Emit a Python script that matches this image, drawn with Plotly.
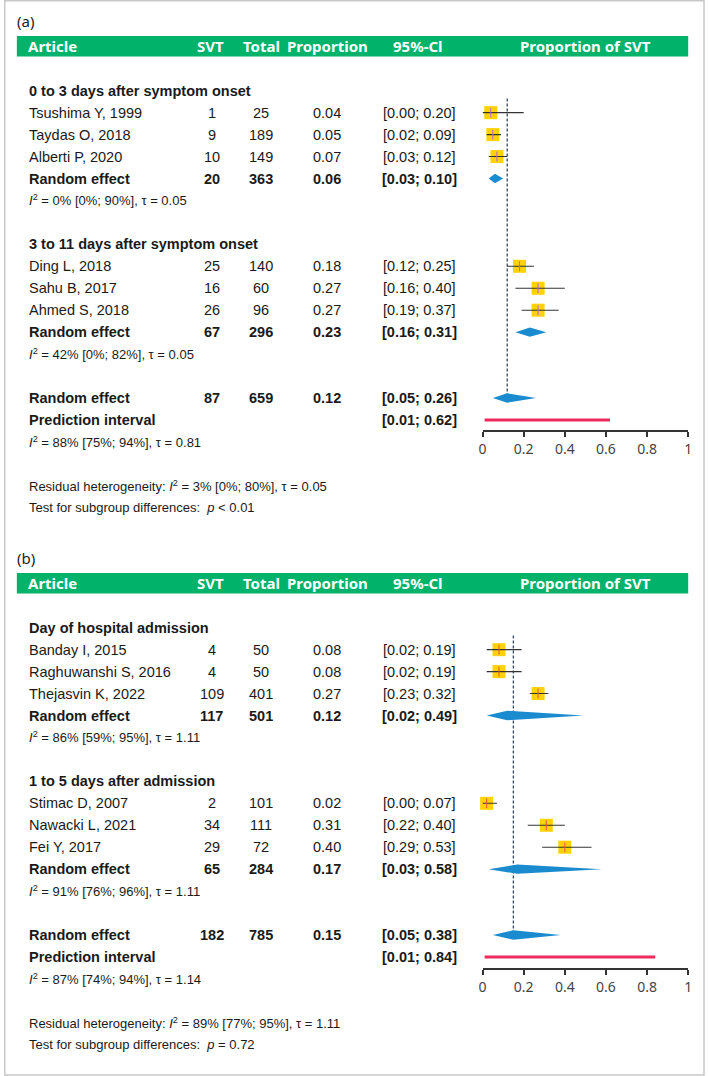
import plotly.graph_objects as go

W, H = 709, 1076

# ---------------- Data: panel (a) ----------------
label_a = "(a)"
subgroups_a = ["0 to 3 days after symptom onset", "3 to 11 days after symptom onset"]
studies_a = ["Tsushima Y, 1999", "Taydas O, 2018", "Alberti P, 2020",
             "Ding L, 2018", "Sahu B, 2017", "Ahmed S, 2018"]
svt_a = [1, 9, 10, 25, 16, 26]
total_a = [25, 189, 149, 140, 60, 96]
prop_a = [0.04, 0.05, 0.07, 0.18, 0.27, 0.27]
lo_a = [0.00, 0.02, 0.03, 0.12, 0.16, 0.19]
hi_a = [0.20, 0.09, 0.12, 0.25, 0.40, 0.37]
re_svt_a = [20, 67]
re_total_a = [363, 296]
re_prop_a = [0.06, 0.23]
re_lo_a = [0.03, 0.16]
re_hi_a = [0.10, 0.31]
het_a = ["0% [0%; 90%]", "42% [0%; 82%]"]
tau_a = ["0.05", "0.05"]
overall_a = dict(svt=87, total=659, prop=0.12, lo=0.05, hi=0.26,
                 pi_lo=0.01, pi_hi=0.62, het="88% [75%; 94%]", tau="0.81",
                 res_het="3% [0%; 80%]", res_tau="0.05", test="<i>p</i> < 0.01")

# ---------------- Data: panel (b) ----------------
label_b = "(b)"
subgroups_b = ["Day of hospital admission", "1 to 5 days after admission"]
studies_b = ["Banday I, 2015", "Raghuwanshi S, 2016", "Thejasvin K, 2022",
             "Stimac D, 2007", "Nawacki L, 2021", "Fei Y, 2017"]
svt_b = [4, 4, 109, 2, 34, 29]
total_b = [50, 50, 401, 101, 111, 72]
prop_b = [0.08, 0.08, 0.27, 0.02, 0.31, 0.40]
lo_b = [0.02, 0.02, 0.23, 0.00, 0.22, 0.29]
hi_b = [0.19, 0.19, 0.32, 0.07, 0.40, 0.53]
re_svt_b = [117, 65]
re_total_b = [501, 284]
re_prop_b = [0.12, 0.17]
re_lo_b = [0.02, 0.03]
re_hi_b = [0.49, 0.58]
het_b = ["86% [59%; 95%]", "91% [76%; 96%]"]
tau_b = ["1.11", "1.11"]
overall_b = dict(svt=182, total=785, prop=0.15, lo=0.05, hi=0.38,
                 pi_lo=0.01, pi_hi=0.84, het="87% [74%; 94%]", tau="1.14",
                 res_het="89% [77%; 95%]", res_tau="1.11", test="<i>p</i> = 0.72")

header_labels = ["Article", "SVT", "Total", "Proportion", "95%-Cl", "Proportion of SVT"]
tick_vals = [0, 0.2, 0.4, 0.6, 0.8, 1]
tick_text = ["0", "0.2", "0.4", "0.6", "0.8", "1"]

# ---------------- Styling / layout constants ----------------
GREEN = "#00B26A"
YELLOW = "#FFD200"
BLUE = "#1B8BCF"
RED = "#EC2B5C"
DASH = "#34465E"
TXT = "#1a1a1a"
BODY = "Liberation Sans, Arial, sans-serif"
HEAD = "Noto Sans, Open Sans, sans-serif"

STEP = 21.95
X_NAME, X_SVT, X_TOT, X_PROP, X_CI = 25, 210, 259.5, 341, 420
FX0, FX1 = 484, 692
DIAMOND_H = 4.7

panels = [
    dict(label=label_a, subgroups=subgroups_a, studies=studies_a, svt=svt_a, total=total_a,
         prop=prop_a, lo=lo_a, hi=hi_a, re_svt=re_svt_a, re_total=re_total_a,
         re_prop=re_prop_a, re_lo=re_lo_a, re_hi=re_hi_a, het=het_a, tau=tau_a,
         overall=overall_a, base=90.7, axis_y=430, top=60, xa="x2", ya="y2"),
    dict(label=label_b, subgroups=subgroups_b, studies=studies_b, svt=svt_b, total=total_b,
         prop=prop_b, lo=lo_b, hi=hi_b, re_svt=re_svt_b, re_total=re_total_b,
         re_prop=re_prop_b, re_lo=re_lo_b, re_hi=re_hi_b, het=het_b, tau=tau_b,
         overall=overall_b, base=627.7, axis_y=967.7, top=600, xa="x3", ya="y3"),
]

fig = go.Figure()
annotations = []
shapes = []


def px(x):
    return x / W


def py(y):
    return 1 - y / H


def txt(x, y, s, anchor="left", size=14.5, color=TXT, family=BODY):
    annotations.append(dict(
        x=px(x), y=py(y), xref="paper", yref="paper", text=s, showarrow=False,
        xanchor=anchor, yanchor="middle", font=dict(size=size, color=color, family=family),
        borderpad=0, borderwidth=0))


def fmt(v):
    return f"{v:.2f}"


def ci(lo, hi):
    return f"[{lo:.2f}; {hi:.2f}]"


# outer frame
shapes.append(dict(type="rect", xref="paper", yref="paper", x0=px(0.75), x1=px(708),
                   y0=py(1075), y1=py(0.75), line=dict(color="#C8C8C8", width=1.5)))

for p in panels:
    base = p["base"]
    row = lambda r: base + STEP * r
    hy = base - 44.5
    txt(13, base - 70, p["label"], size=15, family=HEAD, color="#222")
    shapes.append(dict(type="rect", xref="paper", yref="paper", x0=px(13), x1=px(692),
                       y0=py(hy + 10.3), y1=py(hy - 10.3), fillcolor=GREEN,
                       line=dict(width=0), layer="below"))
    hx = [(24.3, "left"), (209, "center"), (260, "center"), (327, "center"),
          (419, "center"), (588, "center")]
    for (x, anc), lab in zip(hx, header_labels):
        txt(x, hy, f"<b>{lab}</b>", anchor=anc, size=15, color="white", family=HEAD)

    study_rows = []
    re_rows = []
    for g in range(2):
        off = 7 * g
        txt(X_NAME, row(off), f"<b>{p['subgroups'][g]}</b>")
        for k in range(3):
            i = 3 * g + k
            r = off + 1 + k
            study_rows.append(row(r))
            txt(X_NAME, row(r), p["studies"][i])
            txt(X_SVT, row(r), str(p["svt"][i]), anchor="center")
            txt(X_TOT, row(r), str(p["total"][i]), anchor="center")
            txt(X_PROP, row(r), fmt(p["prop"][i]), anchor="right")
            txt(X_CI, row(r), ci(p["lo"][i], p["hi"][i]), anchor="center")
        r = off + 4
        re_rows.append(row(r))
        txt(X_NAME, row(r), "<b>Random effect</b>")
        txt(X_SVT, row(r), f"<b>{p['re_svt'][g]}</b>", anchor="center")
        txt(X_TOT, row(r), f"<b>{p['re_total'][g]}</b>", anchor="center")
        txt(X_PROP, row(r), f"<b>{fmt(p['re_prop'][g])}</b>", anchor="right")
        txt(X_CI, row(r), f"<b>{ci(p['re_lo'][g], p['re_hi'][g])}</b>", anchor="center")
        txt(X_NAME, row(off + 5),
            f"<i>I</i><sup>2</sup> = {p['het'][g]}, τ = {p['tau'][g]}", size=13)

    o = p["overall"]
    txt(X_NAME, row(14), "<b>Random effect</b>")
    txt(X_SVT, row(14), f"<b>{o['svt']}</b>", anchor="center")
    txt(X_TOT, row(14), f"<b>{o['total']}</b>", anchor="center")
    txt(X_PROP, row(14), f"<b>{fmt(o['prop'])}</b>", anchor="right")
    txt(X_CI, row(14), f"<b>{ci(o['lo'], o['hi'])}</b>", anchor="center")
    txt(X_NAME, row(15), "<b>Prediction interval</b>")
    txt(X_CI, row(15), f"<b>{ci(o['pi_lo'], o['pi_hi'])}</b>", anchor="center")
    txt(X_NAME, row(16), f"<i>I</i><sup>2</sup> = {o['het']}, τ = {o['tau']}", size=13)
    txt(X_NAME, row(18),
        f"Residual heterogeneity: <i>I</i><sup>2</sup> = {o['res_het']}, τ = {o['res_tau']}",
        size=13)
    txt(X_NAME, row(19.0), "Test for subgroup differences:\u00a0\u00a0" + o["test"], size=13)

    xa, ya = p["xa"], p["ya"]
    fig.add_trace(go.Scatter(x=[o["prop"], o["prop"]], y=[row(0.35), row(14)], xaxis=xa, yaxis=ya,
                             mode="lines", line=dict(color=DASH, width=1.3, dash="3px,2px"),
                             hoverinfo="skip", showlegend=False))
    fig.add_trace(go.Scatter(x=p["prop"], y=study_rows, xaxis=xa, yaxis=ya, mode="markers",
                             marker=dict(symbol="square", size=13, color=YELLOW,
                                         line=dict(width=0)),
                             cliponaxis=False, showlegend=False))
    cx, cy = [], []
    for lo, hi, yy in zip(p["lo"], p["hi"], study_rows):
        cx += [lo, hi, None]
        cy += [yy, yy, None]
    fig.add_trace(go.Scatter(x=cx, y=cy, xaxis=xa, yaxis=ya, mode="lines",
                             line=dict(color="#333333", width=1.1),
                             hoverinfo="skip", showlegend=False))
    fig.add_trace(go.Scatter(x=p["prop"], y=study_rows, xaxis=xa, yaxis=ya, mode="markers",
                             marker=dict(symbol="line-ns-open", size=7,
                                         line=dict(color="#111111", width=1)),
                             cliponaxis=False, showlegend=False))
    d_est = p["re_prop"] + [o["prop"]]
    d_lo = p["re_lo"] + [o["lo"]]
    d_hi = p["re_hi"] + [o["hi"]]
    d_y = re_rows + [row(14)]
    for est, lo, hi, yy in zip(d_est, d_lo, d_hi, d_y):
        fig.add_trace(go.Scatter(x=[lo, est, hi, est, lo],
                                 y=[yy, yy - DIAMOND_H, yy, yy + DIAMOND_H, yy],
                                 xaxis=xa, yaxis=ya, mode="lines", fill="toself",
                                 fillcolor=BLUE, line=dict(width=0, color=BLUE),
                                 hoverinfo="skip", showlegend=False))
    fig.add_trace(go.Scatter(x=[o["pi_lo"], o["pi_hi"]], y=[row(15), row(15)],
                             xaxis=xa, yaxis=ya, mode="lines",
                             line=dict(color=RED, width=3),
                             hoverinfo="skip", showlegend=False))

common_x = dict(range=[0, 1], domain=[FX0 / W, FX1 / W], showgrid=False, zeroline=False,
                showline=True, linecolor="#333333", linewidth=2, ticks="outside",
                ticklen=5, tickwidth=1.5, tickcolor="#333333", tickvals=tick_vals,
                ticktext=tick_text, tickfont=dict(family=HEAD, size=14, color="#444444"),
                fixedrange=True)

pa, pb = panels
fig.update_layout(
    width=W, height=H, margin=dict(l=0, r=0, t=0, b=0),
    paper_bgcolor="white", plot_bgcolor="rgba(0,0,0,0)",
    showlegend=False,
    xaxis=dict(visible=False, range=[0, 1], domain=[0, 0.01]),
    yaxis=dict(visible=False, range=[0, 1], domain=[0, 0.01]),
    xaxis2=dict(anchor="y2", **common_x),
    yaxis2=dict(anchor="x2", visible=False, range=[pa["axis_y"], pa["top"]],
                domain=[py(pa["axis_y"]), py(pa["top"])], fixedrange=True),
    xaxis3=dict(anchor="y3", **common_x),
    yaxis3=dict(anchor="x3", visible=False, range=[pb["axis_y"], pb["top"]],
                domain=[py(pb["axis_y"]), py(pb["top"])], fixedrange=True),
    annotations=annotations,
    shapes=shapes,
)

fig.write_html("out.html", config={"displayModeBar": False},
               post_script="document.body.style.margin='0';document.body.style.overflow='hidden';")
